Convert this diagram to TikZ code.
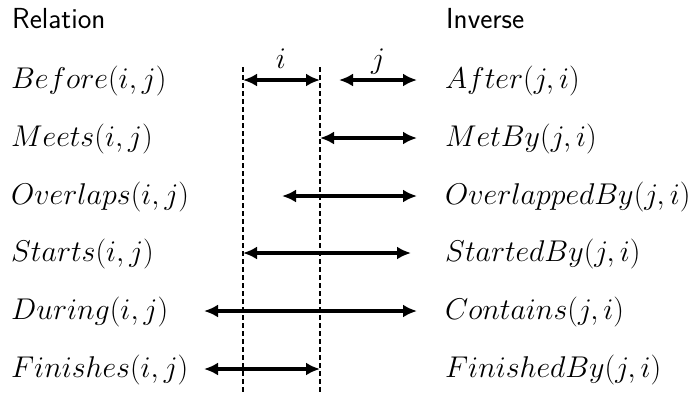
\RequirePackage{fix-cm}
\documentclass[tikz,border=0pt]{standalone}
\usepackage{fontspec}
\usetikzlibrary{arrows.meta}
\begin{document}
\begin{tikzpicture}[x=1pt,y=-1pt,
  lbl/.style={anchor=base west, inner sep=0pt, font=\fontsize{30}{36}\selectfont},
  hdr/.style={anchor=base west, inner sep=0pt, font=\fontsize{29}{35}\selectfont\sffamily},
  ivl/.style={line width=3.6pt, {Latex[length=14pt,width=13pt]}-{Latex[length=14pt,width=13pt]}},
  guide/.style={line width=1.8pt, dash pattern=on 5pt off 3pt},
  tag/.style={inner sep=0pt, font=\fontsize{30}{36}\selectfont}]
\useasboundingbox (0,0) rectangle (689,392);
% headers
\node[hdr] (relh) at (12,28) {Relation};
\node[hdr] (invh) at (446,28) {Inverse};
% left labels
\node[lbl] (before) at (11,88) {$Before(i,j)$};
\node[lbl] (meets) at (11,146) {$Meets(i,j)$};
\node[lbl] (overlaps) at (11,204) {$Overlaps(i,j)$};
\node[lbl] (starts) at (11,261) {$Starts(i,j)$};
\node[lbl] (during) at (11,319) {$During(i,j)$};
\node[lbl] (finishes) at (11,377) {$Finishes(i,j)$};
% right labels
\node[lbl] (after) at (445,88) {$After(j,i)$};
\node[lbl] (metby) at (445,146) {$MetBy(j,i)$};
\node[lbl] (overlappedby) at (445,204) {$OverlappedBy(j,i)$};
\node[lbl] (startedby) at (445,261) {$StartedBy(j,i)$};
\node[lbl] (contains) at (445,319) {$Contains(j,i)$};
\node[lbl] (finishedby) at (445,377) {$FinishedBy(j,i)$};
% guide lines
\coordinate (g1top) at (243,67);
\coordinate (g1bot) at (243,392);
\coordinate (g2top) at (320,67);
\coordinate (g2bot) at (320,392);
\draw[guide] (g1top) -- (g1bot);
\draw[guide] (g2top) -- (g2bot);
% interval end points
\coordinate (bi1) at (243,80);  \coordinate (bi2) at (320,80);
\coordinate (bj1) at (339,80);  \coordinate (bj2) at (417,80);
\coordinate (m1) at (320,138);  \coordinate (m2) at (417,138);
\coordinate (o1) at (282,196);  \coordinate (o2) at (417,196);
\coordinate (s1) at (243,253);  \coordinate (s2) at (411,253);
\coordinate (d1) at (204,311);  \coordinate (d2) at (417,311);
\coordinate (f1) at (204,369);  \coordinate (f2) at (320,369);
\draw[ivl] (bi1) -- (bi2);
\draw[ivl] (bj1) -- (bj2);
\draw[ivl] (m1) -- (m2);
\draw[ivl] (o1) -- (o2);
\draw[ivl] (s1) -- (s2);
\draw[ivl] (d1) -- (d2);
\draw[ivl] (f1) -- (f2);
% interval names
\node[tag, anchor=base] (ilbl) at (281,68) {$i$};
\node[tag, anchor=base] (jlbl) at (378,68) {$j$};
\end{tikzpicture}
\end{document}
